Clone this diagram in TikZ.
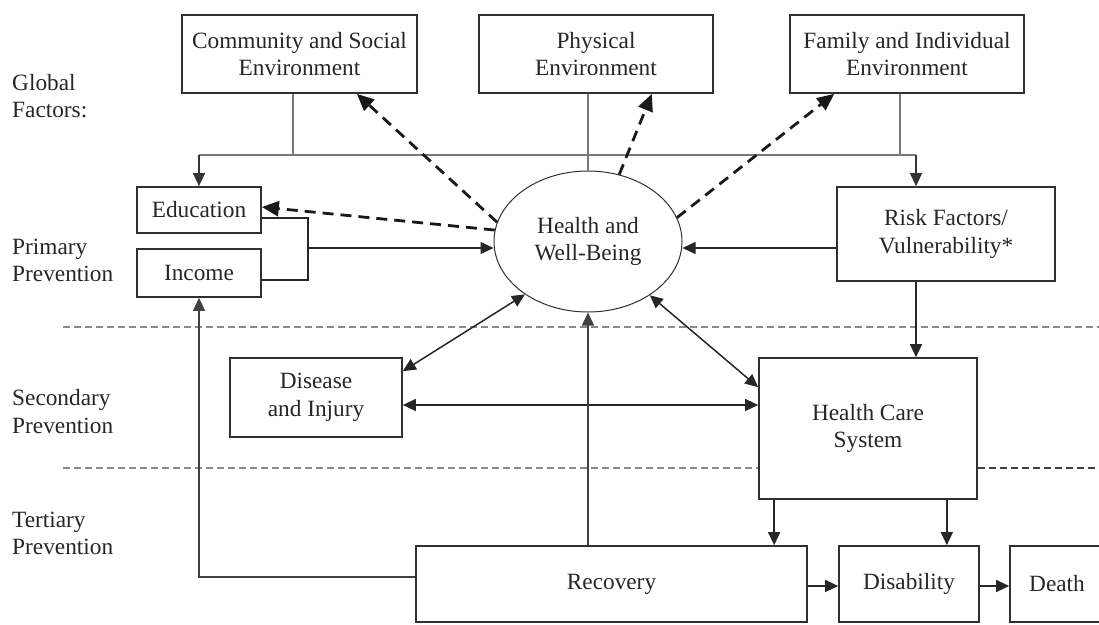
\documentclass[tikz,border=0pt]{standalone}
\usepackage{fontspec}
\setmainfont{Liberation Serif}
\usetikzlibrary{arrows.meta,calc,shapes.geometric}
\definecolor{boxc}{HTML}{303030}
\definecolor{txtc}{HTML}{262626}
\definecolor{thinc}{HTML}{7A7A7A}
\definecolor{sepc}{HTML}{8A8A8A}
\newcommand{\myfs}{\fontsize{23.3}{27.5}\selectfont}
\begin{document}
\begin{tikzpicture}[x=1pt,y=-1pt,
  box/.style={draw=boxc, line width=1.7pt, inner sep=0pt, align=center, font=\myfs, text=txtc},
  lab/.style={anchor=west, align=left, inner sep=0pt, font=\myfs, text=txtc},
  conn/.style={draw=black!85, line width=1.5pt},
  thinl/.style={draw=thinc, line width=1.3pt},
  arr/.style={-{Triangle[length=13pt,width=12pt]}},
  dbl/.style={{Triangle[length=13pt,width=12pt]}-{Triangle[length=13pt,width=12pt]}},
  dasharr/.style={draw=black!90, line width=2.8pt, dash pattern=on 11pt off 7pt, -{Triangle[length=17pt,width=15pt]}},
  sepl/.style={draw=sepc, line width=1.2pt, dash pattern=on 7pt off 4pt}
]
\useasboundingbox (0,0) rectangle (1099,624);

% left labels
\node[lab] (lg) at (12,96) {Global\\Factors:};
\node[lab] (lp) at (12,260.5) {Primary\\Prevention};
\node[lab] (ls) at (12,411.5) {Secondary\\Prevention};
\node[lab] (lt) at (12,533.5) {Tertiary\\Prevention};

% boxes
\node[box, minimum width=235pt, minimum height=78pt] (comm) at (299.5,54) {Community and Social\\Environment};
\node[box, minimum width=234pt, minimum height=78pt] (phys) at (596,54) {Physical\\Environment};
\node[box, minimum width=234pt, minimum height=78pt] (fam) at (907,54) {Family and Individual\\Environment};
\node[box, minimum width=124pt, minimum height=46pt] (edu) at (199,210) {Education};
\node[box, minimum width=124pt, minimum height=48pt] (inc) at (199,273) {Income};
\node[ellipse, draw=boxc, line width=1pt, minimum width=188pt, minimum height=141pt, inner sep=0pt, align=center, font=\myfs, text=txtc] (hw) at (588,241.5) {Health and\\Well-Being};
\node[box, minimum width=218pt, minimum height=94pt] (risk) at (946,234) {Risk Factors/\\Vulnerability*};
\node[box, minimum width=172pt, minimum height=79pt] (dis) at (316,397.5) {Disease\\and Injury};
\node[box, minimum width=218pt, minimum height=141pt] (hcs) at (868,428.5) {Health Care\\System};
\node[box, minimum width=391pt, minimum height=76pt] (rec) at (611.5,584) {Recovery};
\node[box, minimum width=140pt, minimum height=76pt] (disab) at (909,584) {Disability};
\node[box, minimum width=94pt, minimum height=76pt] (death) at (1057,584) {Death};

% separators
\draw[sepl] (63,327) -- (1099,327);
\coordinate (s2) at (63,468);
\draw[sepl] (s2) -- (s2 -| hcs.west);
\draw[sepl, draw=black!75, line width=1.6pt] (s2 -| hcs.east) -- (1099,468);

% global factor bus
\coordinate (bus) at (0,155);
\coordinate (rk) at ([xshift=-30pt]risk.north);
\draw[thinl] ([xshift=-6.5pt]comm.south) -- ([xshift=-6.5pt]comm.south |- bus);
\draw[thinl] ([xshift=-7pt]fam.south) -- ([xshift=-7pt]fam.south |- bus);
\draw[thinl] (hw.north |- phys.south) -- (hw.north);
\draw[thinl] (bus -| edu.north) -- (bus -| rk);
\draw[thinl, draw=black!80, arr] (bus -| edu.north) -- (edu.north);
\draw[thinl, draw=black!80, arr] (bus -| rk) -- (rk);

% education / income bracket
\coordinate (bm) at (308,248);
\draw[conn] ([yshift=-8pt]edu.east) -| (bm) |- ([yshift=-7pt]inc.east);
\draw[conn, arr] (bm) -- (bm -| hw.west);
\draw[conn, arr] (risk.west |- bm) -- (bm -| hw.east);
\draw[conn, arr] (risk.south -| rk) -- (hcs.north -| rk);

% dashed arrows
\draw[dasharr] (hw.168) -- ([xshift=-61pt]comm.south east);
\draw[dasharr] (hw.173) -- ([yshift=3pt]edu.east);
\draw[dasharr] (hw.65) -- ([xshift=-62pt]phys.south east);
\draw[dasharr] (hw.15) -- ([xshift=45pt]fam.south west);

% double arrows
\draw[conn, dbl] ([yshift=-14pt]dis.north east) -- (hw.220);
\draw[conn, dbl] (hw.-41) -- ([yshift=-30pt]hcs.north west);
\coordinate (dh) at ([yshift=-7.5pt]dis.east);
\draw[conn, dbl] (dh) -- (dh -| hcs.west);

% recovery links
\draw[conn, draw=black!75, arr] (rec.north -| hw.south) -- (hw.south);
\draw[conn, draw=black!75, arr] ([yshift=7pt]rec.west) -| (inc.south);
\coordinate (h1) at ([xshift=16pt]hcs.south west);
\coordinate (h2) at ([xshift=-31pt]hcs.south east);
\draw[conn, arr] (h1) -- (h1 |- rec.north);
\draw[conn, arr] (h2) -- (h2 |- disab.north);
\coordinate (r1) at ([yshift=-2pt]rec.east);
\draw[conn, arr] (r1) -- (r1 -| disab.west);
\coordinate (d1) at ([yshift=-2pt]disab.east);
\draw[conn, arr] (d1) -- (d1 -| death.west);
\end{tikzpicture}
\end{document}
